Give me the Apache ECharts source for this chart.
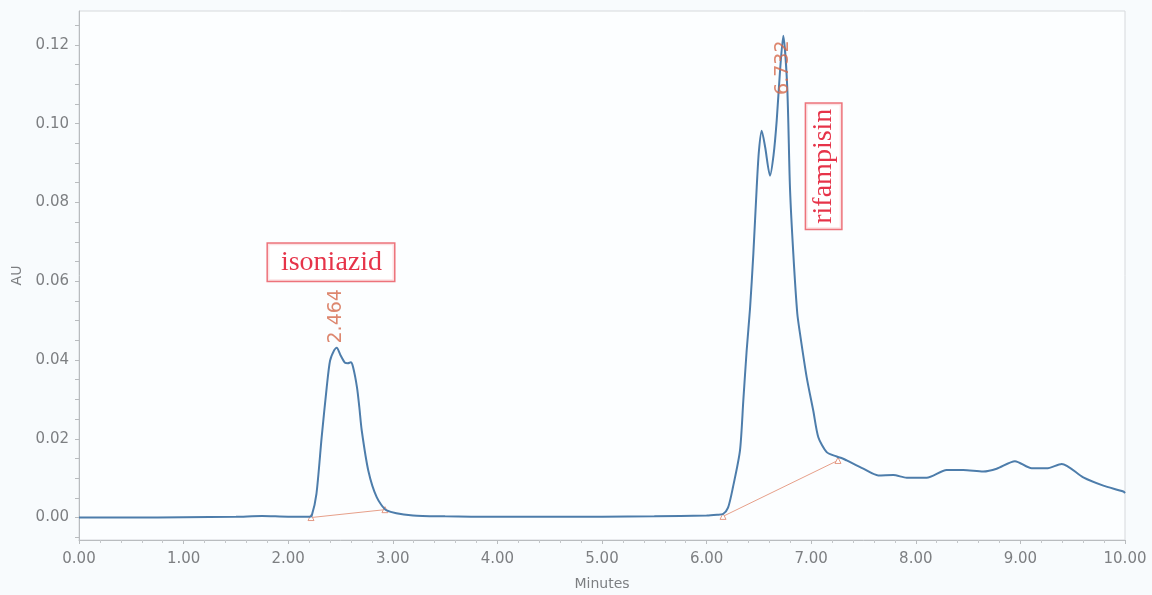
<!DOCTYPE html>
<html>
<head>
<meta charset="utf-8">
<script src="https://cdn.jsdelivr.net/npm/echarts@6/dist/echarts.min.js"></script>
<style>html,body{margin:0;padding:0;background:#f8fbfd}#c{width:1152px;height:595px}</style>
</head>
<body>
<div id="c"></div>
<script>
// ---- data ----
const xTicks = [0, 1, 2, 3, 4, 5, 6, 7, 8, 9, 10];
const yTicks = [0, 0.02, 0.04, 0.06, 0.08, 0.10, 0.12];
const yMinorTicks = [-0.005, 0, 0.005, 0.01, 0.015, 0.02, 0.025, 0.03, 0.035, 0.04, 0.045, 0.05, 0.055, 0.06, 0.065, 0.07, 0.075, 0.08, 0.085, 0.09, 0.095, 0.10, 0.105, 0.11, 0.115, 0.12, 0.125];
const timeMin = [0, 0.5, 1.0, 1.5, 1.75, 2.0, 2.2, 2.225, 2.27, 2.32, 2.368, 2.40, 2.44, 2.464, 2.50, 2.543, 2.57, 2.598, 2.62, 2.658, 2.68, 2.703, 2.766, 2.846, 2.942, 3.193, 3.5, 4.0, 5.0, 5.5, 6.0, 6.1, 6.157, 6.205, 6.252, 6.319, 6.351, 6.383, 6.415, 6.447, 6.479, 6.50, 6.527, 6.56, 6.606, 6.64, 6.670, 6.702, 6.733, 6.771, 6.797, 6.829, 6.867, 6.893, 6.957, 7.02, 7.068, 7.148, 7.244, 7.30, 7.339, 7.498, 7.641, 7.785, 7.913, 8.104, 8.295, 8.454, 8.645, 8.773, 8.948, 9.108, 9.251, 9.395, 9.601, 9.793, 9.984, 10.0];
const absorbance = [0.0000, 0.0000, 0.0001, 0.0002, 0.0004, 0.0002, 0.0002, 0.0005, 0.0060, 0.0204, 0.0330, 0.0398, 0.0425, 0.0431, 0.0412, 0.0393, 0.0392, 0.0394, 0.0382, 0.0330, 0.0280, 0.0221, 0.0119, 0.0052, 0.0018, 0.0005, 0.0003, 0.0002, 0.0002, 0.0003, 0.0005, 0.0007, 0.0009, 0.0025, 0.0077, 0.0170, 0.0297, 0.0424, 0.0530, 0.0670, 0.0838, 0.0930, 0.0982, 0.0940, 0.0868, 0.0920, 0.1007, 0.1134, 0.1223, 0.1092, 0.0838, 0.0670, 0.0518, 0.0467, 0.0356, 0.0271, 0.0204, 0.0166, 0.0155, 0.0150, 0.0145, 0.0124, 0.0107, 0.0108, 0.0101, 0.0101, 0.0121, 0.0121, 0.0117, 0.0124, 0.0143, 0.0125, 0.0125, 0.0136, 0.0102, 0.0081, 0.0066, 0.0062];
const baseline1 = [[2.218, 0.0000], [2.925, 0.0020]];
const baseline2 = [[6.157, 0.0003], [7.256, 0.0145]];
const peakLabels = [[2.457, 0.0511, '2.464'], [6.73, 0.1142, '6.732']];
const compoundLabels = [[2.409, 0.0648, 'isoniazid', 0], [7.119, 0.0892, 'rifampisin', 90]];

const trace = timeMin.map((t, i) => [t, absorbance[i]]);

const chart = echarts.init(document.getElementById('c'), null, {renderer: 'canvas'});
const grayText = '#7d7f82';
const tickFont = 'DejaVu Sans';
const baseStyle = {
  type: 'line', symbol: 'triangle', symbolSize: 6, showSymbol: true, z: 2,
  lineStyle: {color: '#e7a08a', width: 1},
  itemStyle: {color: '#ffffff', borderColor: '#e39a85', borderWidth: 1},
  silent: true
};
chart.setOption({
  backgroundColor: '#f8fbfd',
  animation: false,
  grid: {left: 79, right: 27, top: 11, bottom: 55, containLabel: false, outerBoundsMode: 'none',
    show: true, backgroundColor: '#fcfeff', borderColor: '#d6d9dc', borderWidth: 1},
  xAxis: {
    type: 'value', min: 0, max: 10, interval: 1,
    name: 'Minutes', nameLocation: 'middle', nameGap: 37,
    nameTextStyle: {color: grayText, fontSize: 14, fontFamily: tickFont},
    axisLine: {show: true, onZero: false, lineStyle: {color: '#b9bcbf'}},
    axisTick: {show: true, length: 4, lineStyle: {color: '#b9bcbf'}},
    minorTick: {show: true, splitNumber: 5, length: 3, lineStyle: {color: '#c4c7ca'}},
    splitLine: {show: false},
    axisLabel: {color: grayText, fontSize: 15, margin: 12, fontFamily: tickFont,
      customValues: xTicks, formatter: v => v.toFixed(2)}
  },
  yAxis: {
    type: 'value', min: -0.0057, max: 0.1286,
    name: 'AU', nameLocation: 'middle', nameGap: 54, nameRotate: 90,
    nameTextStyle: {color: grayText, fontSize: 14, fontFamily: tickFont},
    axisLine: {show: true, lineStyle: {color: '#b9bcbf'}},
    axisTick: {show: true, length: 4, customValues: yMinorTicks, lineStyle: {color: '#b9bcbf'}},
    splitLine: {show: false},
    axisLabel: {color: grayText, fontSize: 15, margin: 10, fontFamily: tickFont,
      customValues: yTicks, formatter: v => v.toFixed(2)}
  },
  series: [
    Object.assign({data: baseline1}, baseStyle),
    Object.assign({data: baseline2}, baseStyle),
    {
      type: 'line', data: trace, showSymbol: false, smooth: 0.25, z: 3,
      lineStyle: {color: '#4d7dab', width: 2}, silent: true
    },
    {
      type: 'scatter', data: peakLabels, symbolSize: 0, z: 4, silent: true,
      label: {show: true, position: 'inside', rotate: 90, formatter: p => p.data[2],
        color: '#d4694b', fontSize: 19, fontFamily: tickFont}
    },
    {
      type: 'scatter', symbolSize: 0, z: 5, silent: true,
      data: compoundLabels.map(d => ({value: [d[0], d[1]], name: d[2],
        label: {rotate: d[3], padding: d[3] ? [3, 5, 3, 5] : [4, 12, 4, 13]}})),
      label: {show: true, position: 'inside', formatter: p => p.name,
        color: '#e0001b', fontSize: 28, lineHeight: 29, fontFamily: 'Liberation Serif',
        backgroundColor: '#ffffff', borderColor: '#e8505a', borderWidth: 1.5}
    }
  ]
});
</script>
</body>
</html>
